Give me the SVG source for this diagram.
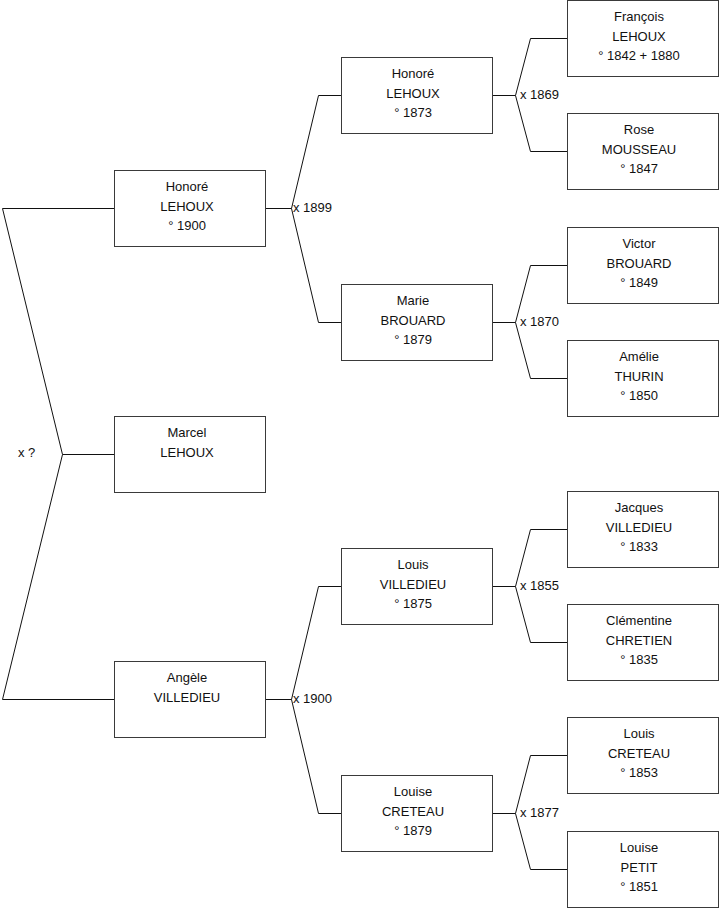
<svg xmlns="http://www.w3.org/2000/svg" width="719" height="908" viewBox="0 0 719 908">
<style>
rect.b{fill:#fff;stroke:#3a3a3a;stroke-width:1}
text{font-family:"Liberation Sans",Arial,sans-serif;font-size:13px;fill:#111}
text.c{text-anchor:middle}
#connectors polyline{fill:none;stroke:#111;stroke-width:1}
</style>
<rect width="719" height="908" fill="#fff"/>
<g id="connectors">
<polyline points="114,208.5 2.5,208.5 62.5,454.5 2.5,699.5 114,699.5"/>
<polyline points="62.5,454.5 114,454.5"/>
<polyline points="265,208.5 291.5,208.5"/>
<polyline points="341,95.5 318.5,95.5 291.5,208.5 318.5,322.5 341,322.5"/>
<polyline points="265,699.5 291.5,699.5"/>
<polyline points="341,586.5 318.5,586.5 291.5,699.5 318.5,813.5 341,813.5"/>
<polyline points="492,95.5 515.5,95.5"/>
<polyline points="567,38.5 530.5,38.5 515.5,95.5 530.5,151.5 567,151.5"/>
<polyline points="492,322.5 515.5,322.5"/>
<polyline points="567,265.5 530.5,265.5 515.5,322.5 530.5,378.5 567,378.5"/>
<polyline points="492,586.5 515.5,586.5"/>
<polyline points="567,529.5 530.5,529.5 515.5,586.5 530.5,642.5 567,642.5"/>
<polyline points="492,813.5 515.5,813.5"/>
<polyline points="567,755.5 530.5,755.5 515.5,813.5 530.5,869.5 567,869.5"/>
<text x="18" y="457">x ?</text>
<text x="293" y="212">x 1899</text>
<text x="293" y="703">x 1900</text>
<text x="520" y="99">x 1869</text>
<text x="520" y="326">x 1870</text>
<text x="520" y="590">x 1855</text>
<text x="520" y="817">x 1877</text>
</g>
<g id="honore1900"><rect class="b" x="114.5" y="170.5" width="151" height="76"/>
<text class="c" x="187" y="191">Honoré</text><text class="c" x="187" y="211">LEHOUX</text><text class="c" x="187" y="230">° 1900</text></g>
<g id="marcel"><rect class="b" x="114.5" y="416.5" width="151" height="76"/>
<text class="c" x="187" y="437">Marcel</text><text class="c" x="187" y="457">LEHOUX</text></g>
<g id="angele"><rect class="b" x="114.5" y="661.5" width="151" height="76"/>
<text class="c" x="187" y="682">Angèle</text><text class="c" x="187" y="702">VILLEDIEU</text></g>
<g id="honore1873"><rect class="b" x="341.5" y="57.5" width="151" height="76"/>
<text class="c" x="413" y="78">Honoré</text><text class="c" x="413" y="98">LEHOUX</text><text class="c" x="413" y="117">° 1873</text></g>
<g id="marie"><rect class="b" x="341.5" y="284.5" width="151" height="76"/>
<text class="c" x="413" y="305">Marie</text><text class="c" x="413" y="325">BROUARD</text><text class="c" x="413" y="344">° 1879</text></g>
<g id="louisv"><rect class="b" x="341.5" y="548.5" width="151" height="76"/>
<text class="c" x="413" y="569">Louis</text><text class="c" x="413" y="589">VILLEDIEU</text><text class="c" x="413" y="608">° 1875</text></g>
<g id="louisec"><rect class="b" x="341.5" y="775.5" width="151" height="76"/>
<text class="c" x="413" y="796">Louise</text><text class="c" x="413" y="816">CRETEAU</text><text class="c" x="413" y="835">° 1879</text></g>
<g id="francois"><rect class="b" x="567.5" y="0.5" width="151" height="76"/>
<text class="c" x="639" y="21">François</text><text class="c" x="639" y="41">LEHOUX</text><text class="c" x="639" y="60">° 1842 + 1880</text></g>
<g id="rose"><rect class="b" x="567.5" y="113.5" width="151" height="76"/>
<text class="c" x="639" y="134">Rose</text><text class="c" x="639" y="154">MOUSSEAU</text><text class="c" x="639" y="173">° 1847</text></g>
<g id="victor"><rect class="b" x="567.5" y="227.5" width="151" height="76"/>
<text class="c" x="639" y="248">Victor</text><text class="c" x="639" y="268">BROUARD</text><text class="c" x="639" y="287">° 1849</text></g>
<g id="amelie"><rect class="b" x="567.5" y="340.5" width="151" height="76"/>
<text class="c" x="639" y="361">Amélie</text><text class="c" x="639" y="381">THURIN</text><text class="c" x="639" y="400">° 1850</text></g>
<g id="jacques"><rect class="b" x="567.5" y="491.5" width="151" height="76"/>
<text class="c" x="639" y="512">Jacques</text><text class="c" x="639" y="532">VILLEDIEU</text><text class="c" x="639" y="551">° 1833</text></g>
<g id="clementine"><rect class="b" x="567.5" y="604.5" width="151" height="76"/>
<text class="c" x="639" y="625">Clémentine</text><text class="c" x="639" y="645">CHRETIEN</text><text class="c" x="639" y="664">° 1835</text></g>
<g id="louisc"><rect class="b" x="567.5" y="717.5" width="151" height="76"/>
<text class="c" x="639" y="738">Louis</text><text class="c" x="639" y="758">CRETEAU</text><text class="c" x="639" y="777">° 1853</text></g>
<g id="louisep"><rect class="b" x="567.5" y="831.5" width="151" height="76"/>
<text class="c" x="639" y="852">Louise</text><text class="c" x="639" y="872">PETIT</text><text class="c" x="639" y="891">° 1851</text></g>
</svg>
